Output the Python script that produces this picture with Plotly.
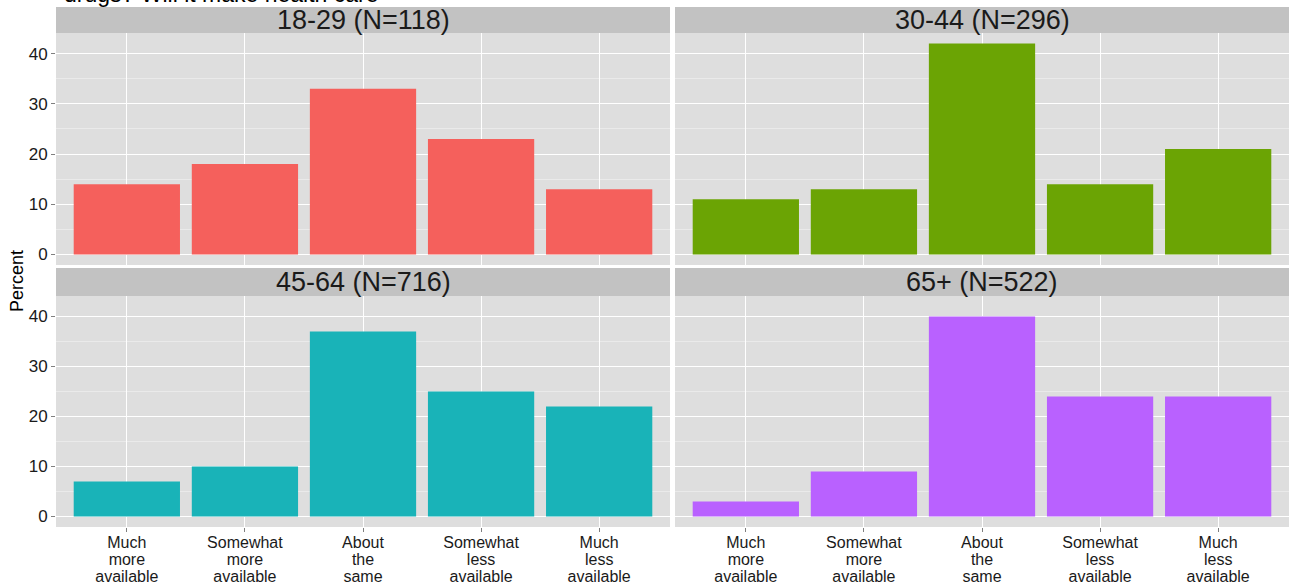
import plotly.graph_objects as go

categories = ["Much<br>more<br>available", "Somewhat<br>more<br>available", "About<br>the<br>same",
              "Somewhat<br>less<br>available", "Much<br>less<br>available"]
label_line1 = ["Much", "Somewhat", "About", "Somewhat", "Much"]
label_line2 = ["more", "more", "the", "less", "less"]
label_line3 = ["available", "available", "same", "available", "available"]
panels = ["18-29 (N=118)", "30-44 (N=296)", "45-64 (N=716)", "65+ (N=522)"]
vals_18_29 = [14, 18, 33, 23, 13]
vals_30_44 = [11, 13, 42, 14, 21]
vals_45_64 = [7, 10, 37, 25, 22]
vals_65p = [3, 9, 40, 24, 24]
series = [vals_18_29, vals_30_44, vals_45_64, vals_65p]
colors = ["#F5605C", "#6BA404", "#19B3B8", "#B961FF"]
y_ticks = [0, 10, 20, 30, 40]
title_text = "drugs? Will it make health care"

W, H = 1289, 586
xd = [(56 / W, 670 / W), (675 / W, 1.0)]
top_plot = (33, 265)
bot_plot = (296, 527)
top_strip = (7, 33)
bot_strip = (268, 296)


def py(a, b):
    return (1 - b / H, 1 - a / H)


yd = [py(*top_plot), py(*bot_plot)]
sd = [py(*top_strip), py(*bot_strip)]

fig = go.Figure()
font_family = "Liberation Sans, Arial, sans-serif"
tick_font = dict(family=font_family, size=16, color="#1a1a1a")
shapes = []
annotations = []
for i, (name, vals, col) in enumerate(zip(panels, series, colors)):
    r, c = divmod(i, 2)
    ax = "" if i == 0 else str(i + 1)
    fig.add_trace(go.Bar(x=categories, y=vals, marker=dict(color=col, line=dict(width=0)),
                         width=0.9, xaxis="x" + ax, yaxis="y" + ax, showlegend=False,
                         hoverinfo="skip"))
    xa = dict(domain=xd[c], anchor="y" + ax, type="category", range=[-0.6, 4.6],
              showgrid=True, gridcolor="#FFFFFF", gridwidth=1.2, zeroline=False,
              showline=False, fixedrange=True, automargin=False,
              showticklabels=False, ticks="outside" if r == 1 else "",
              ticklen=4, tickcolor="#7F7F7F")
    ya = dict(domain=yd[r], anchor="x" + ax, range=[-2.1, 44.1], automargin=False,
              tickvals=y_ticks, showgrid=True, gridcolor="#FFFFFF", gridwidth=1.2,
              zeroline=False, showline=False, fixedrange=True,
              showticklabels=(c == 0), ticks="outside" if c == 0 else "",
              ticklen=4, tickcolor="#7F7F7F",
              tickfont=dict(family=font_family, size=17, color="#1a1a1a"),
              minor=dict(dtick=5, tick0=5, showgrid=True, gridcolor="#EAEAEA", gridwidth=0.8, ticks=""))
    fig.update_layout({"xaxis" + ax: xa, "yaxis" + ax: ya})
    shapes.append(dict(type="rect", xref="paper", yref="paper", x0=xd[c][0], x1=xd[c][1],
                       y0=yd[r][0], y1=yd[r][1], fillcolor="#DEDEDE", line=dict(width=0), layer="below"))
    shapes.append(dict(type="rect", xref="paper", yref="paper", x0=xd[c][0], x1=xd[c][1],
                       y0=sd[r][0], y1=sd[r][1], fillcolor="#C2C2C2", line=dict(width=0), layer="below"))
    annotations.append(dict(text=name, xref="paper", yref="paper", x=(xd[c][0] + xd[c][1]) / 2,
                            y=(sd[r][0] + sd[r][1]) / 2, showarrow=False, xanchor="center", yanchor="middle",
                            font=dict(family=font_family, size=27, color="#1a1a1a")))

# multi-line category labels under the bottom panels: one overlay axis per text line (tight line spacing)
n_ax = 5
for base_x, base_y in [("x3", "y3"), ("x4", "y4")]:
    for k, line in enumerate([label_line1, label_line2, label_line3]):
        idx = list(range(len(line)))
        fig.update_layout({"xaxis%d" % n_ax: dict(
            overlaying=base_x, anchor="free",
            position=1 - (bot_plot[1] + 4 + 17 * k) / H,
            side="bottom", range=[-0.6, 4.6], tickmode="array",
            tickvals=idx, ticktext=line,
            showgrid=False, zeroline=False, showline=False, ticks="",
            fixedrange=True, automargin=False, tickfont=tick_font)})
        fig.add_trace(go.Scatter(x=idx, y=[0] * len(idx), mode="markers",
                                 marker=dict(opacity=0, size=1), xaxis="x%d" % n_ax, yaxis=base_y,
                                 showlegend=False, hoverinfo="skip"))
        n_ax += 1

annotations.append(dict(text="Percent", xref="paper", yref="paper", x=17 / W, y=1 - 281 / H,
                        textangle=-90, showarrow=False, xanchor="center", yanchor="middle",
                        font=dict(family=font_family, size=18, color="#000000")))
annotations.append(dict(text=title_text, xref="paper", yref="paper", x=62 / W, y=1.0,
                        xanchor="left", yanchor="middle", yshift=6, showarrow=False,
                        font=dict(family=font_family, size=23, color="#000000")))

fig.update_layout(width=W, height=H, margin=dict(l=0, r=0, t=0, b=0, autoexpand=False),
                  paper_bgcolor="#FFFFFF", plot_bgcolor="rgba(0,0,0,0)",
                  shapes=shapes, annotations=annotations, bargap=0.1)
fig.write_html("out.html", config={"displayModeBar": False},
               post_script="document.body.style.margin='0';document.body.style.overflow='hidden';")
